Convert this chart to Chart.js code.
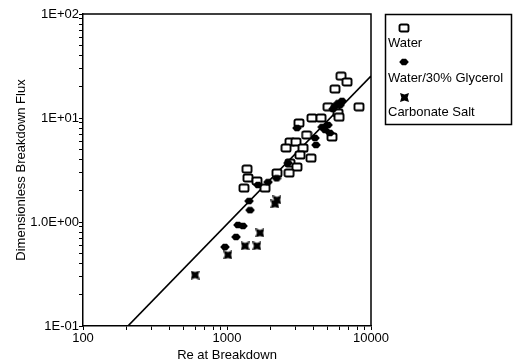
<!DOCTYPE html>
<html>
<head>
<meta charset="utf-8">
<script src="https://cdn.jsdelivr.net/npm/chart.js@4/dist/chart.umd.min.js"></script>
<style>
html,body{margin:0;padding:0;background:#fff;}
#wrap{width:514px;height:364px;}
</style>
</head>
<body>
<div id="wrap"><canvas id="c" width="514" height="364"></canvas></div>
<script>
// ---- data ----
const waterRe   = [6194, 6813, 5623, 8254, 5029, 5902, 5998, 3890, 4498, 3162, 3573, 5358, 2738, 3013, 2570, 3373, 3213, 3828, 2738, 3062, 2698, 2223, 1377, 1399, 1614, 1312, 1837];
const waterFlux = [25.3, 22.2, 19.0, 12.8, 12.8, 11.2, 10.2, 10.0, 10.0, 8.96, 6.87, 6.57, 5.88, 5.88, 5.15, 5.15, 4.41, 4.12, 3.69, 3.38, 2.96, 2.96, 3.23, 2.65, 2.48, 2.12, 2.12];

const glyRe   = [5902, 6295, 5623, 5445, 6100, 4797, 4575, 5029, 5188, 4082, 4150, 3062, 2213, 1641, 1422, 1445, 1192, 1291, 1155, 968, 1928, 2655];
const glyFlux = [13.9, 14.6, 13.0, 12.2, 13.3, 7.67, 8.19, 8.57, 7.18, 6.43, 5.50, 8.01, 2.63, 2.27, 1.59, 1.30, 0.936, 0.916, 0.718, 0.575, 2.42, 3.69];

const carbRe   = [2223, 2154, 1694, 1334, 1614, 1016, 600];
const carbFlux = [1.63, 1.49, 0.784, 0.588, 0.588, 0.482, 0.309];

const fitRe   = [205, 10000];
const fitFlux = [0.1, 25.3];

const seriesNames = ['Water', 'Water/30% Glycerol', 'Carbonate Salt'];

const xTickValues = [100, 1000, 10000];
const xTickLabels = ['100', '1000', '10000'];
const yTickValues = [0.1, 1, 10, 100];
const yTickLabels = ['1E-01', '1.0E+00', '1E+01', '1E+02'];

const xTitle = 'Re at Breakdown';
const yTitle = 'Dimensionless Breakdown Flux';

// ---- helpers ----
const FONT = "'Liberation Sans', Arial, Helvetica, sans-serif";
function pairs(xs, ys){ return xs.map((x,i)=>({x:x, y:ys[i]})); }
function logTicks(min, max){
  const out=[];
  for(let d=min; d<max*1.0001; d*=10){
    for(let m=1;m<=9;m++){ const v=+(d*m).toPrecision(6); if(v<=max*1.0001) out.push(v); if(d*10>max*1.0001) break; }
  }
  return out;
}
function labelFor(v, vals, labs){
  for(let i=0;i<vals.length;i++){ if(Math.abs(Math.log10(v)-Math.log10(vals[i]))<1e-6) return labs[i]; }
  return '';
}
function mk(w,h,draw){ const c=document.createElement('canvas'); c.width=w; c.height=h; draw(c.getContext('2d')); return c; }

const waterMark = mk(12,10,g=>{
  g.lineWidth=1.9; g.strokeStyle='#000'; g.fillStyle='#fff';
  g.beginPath();
  if(g.roundRect) g.roundRect(1.5,1.5,9,7,1.6); else g.rect(1.5,1.5,9,7);
  g.fill(); g.stroke();
});
const glyMark = mk(10,8,g=>{
  g.fillStyle='#000'; g.beginPath();
  g.moveTo(0.2,4); g.lineTo(3,0.8); g.lineTo(7,0.8); g.lineTo(9.8,4); g.lineTo(7,7.2); g.lineTo(3,7.2); g.closePath(); g.fill();
});
const carbMark = mk(9,9,g=>{
  g.fillStyle='#000'; g.beginPath();
  g.moveTo(0,0); g.lineTo(4.5,1.4); g.lineTo(9,0); g.lineTo(7.6,4.5); g.lineTo(9,9); g.lineTo(4.5,7.6); g.lineTo(0,9); g.lineTo(1.4,4.5); g.closePath(); g.fill();
});
const marks = [waterMark, glyMark, carbMark];

// ---- plugins ----
const framePlugin = {
  id:'frame',
  beforeDatasetsDraw(chart){
    const a=chart.chartArea, g=chart.ctx;
    g.save(); g.strokeStyle='#000'; g.lineWidth=1.5;
    g.beginPath(); g.moveTo(a.left,a.top); g.lineTo(a.right,a.top); g.lineTo(a.right,a.bottom); g.stroke();
    g.restore();
  }
};
const titlesPlugin = {
  id:'titles',
  afterDraw(chart){
    const a=chart.chartArea, g=chart.ctx;
    g.save(); g.fillStyle='#000'; g.font='13px '+FONT; g.textAlign='center'; g.textBaseline='middle';
    g.fillText(xTitle, (a.left+a.right)/2, 355);
    g.translate(21,(a.top+a.bottom)/2); g.rotate(-Math.PI/2);
    g.fillText(yTitle, 0, 0);
    g.restore();
  }
};
const legendPlugin = {
  id:'customLegend',
  afterDraw(chart){
    const g=chart.ctx;
    g.save();
    g.strokeStyle='#000'; g.lineWidth=1.5;
    g.strokeRect(385.5,14.5,126,110);
    g.fillStyle='#000'; g.font='13px '+FONT; g.textAlign='left'; g.textBaseline='middle';
    const markY=[28,62,97], textY=[43,78,112];
    seriesNames.forEach((n,i)=>{
      const m=marks[i];
      g.drawImage(m, Math.round(404-m.width/2), Math.round(markY[i]-m.height/2));
      g.fillText(n, 388, textY[i]);
    });
    g.restore();
  }
};

// ---- chart ----
const tickFont = {family:FONT, size:13};
new Chart(document.getElementById('c'), {
  type:'scatter',
  data:{
    datasets:[
      {label:'Fit', type:'line', data:pairs(fitRe,fitFlux), borderColor:'#000', borderWidth:1.7, pointRadius:0, fill:false, tension:0, order:4},
      {label:seriesNames[0], data:pairs(waterRe,waterFlux), pointStyle:waterMark, pointRadius:5, order:3},
      {label:seriesNames[1], data:pairs(glyRe,glyFlux), pointStyle:glyMark, pointRadius:4, order:2},
      {label:seriesNames[2], data:pairs(carbRe,carbFlux), pointStyle:carbMark, pointRadius:4, order:1}
    ]
  },
  options:{
    responsive:false,
    animation:false,
    events:[],
    layout:{padding:{top:14,right:143,bottom:0,left:0}},
    plugins:{legend:{display:false}, tooltip:{enabled:false}, title:{display:false}},
    scales:{
      x:{
        type:'logarithmic', min:100, max:10000,
        afterBuildTicks(s){ s.ticks = logTicks(100,10000).map(v=>({value:v})); },
        afterFit(s){ s.height = 38; },
        ticks:{autoSkip:false, maxRotation:0, minRotation:0, padding:1, color:'#000', font:tickFont,
          callback:(v)=>labelFor(v,xTickValues,xTickLabels)},
        grid:{drawOnChartArea:false, drawTicks:true, tickLength:4, color:'#000', lineWidth:1},
        border:{display:true, color:'#000', width:1.5}
      },
      y:{
        type:'logarithmic', min:0.1, max:100,
        afterBuildTicks(s){ s.ticks = logTicks(0.1,100).map(v=>({value:v})); },
        afterFit(s){ s.width = 83; },
        ticks:{autoSkip:false, padding:0, color:'#000', font:tickFont,
          callback:(v)=>labelFor(v,yTickValues,yTickLabels)},
        grid:{drawOnChartArea:false, drawTicks:true, tickLength:4, color:'#000', lineWidth:1},
        border:{display:true, color:'#000', width:1.5}
      }
    }
  },
  plugins:[framePlugin, titlesPlugin, legendPlugin]
});
</script>
</body>
</html>
